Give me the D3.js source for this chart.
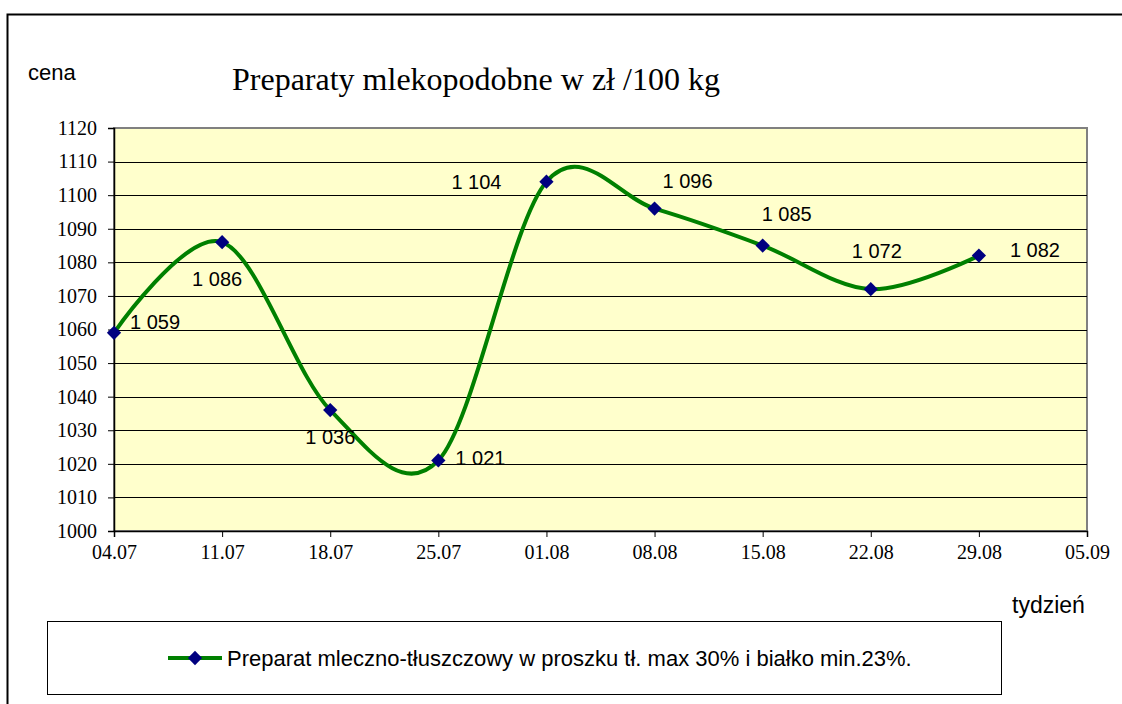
<!DOCTYPE html>
<html><head><meta charset="utf-8">
<script src="https://cdn.jsdelivr.net/npm/d3@7"></script>
<style>body{margin:0;background:#fff}</style>
</head><body>
<svg id="c" width="1122" height="704"></svg>
<script>
const weeks = ["04.07","11.07","18.07","25.07","01.08","08.08","15.08","22.08","29.08"];
const xTicks = ["04.07","11.07","18.07","25.07","01.08","08.08","15.08","22.08","29.08","05.09"];
const values = [1059,1086,1036,1021,1104,1096,1085,1072,1082];
const labels = ["1 059","1 086","1 036","1 021","1 104","1 096","1 085","1 072","1 082"];
const yTicks = [1000,1010,1020,1030,1040,1050,1060,1070,1080,1090,1100,1110,1120];
const seriesName = "Preparat mleczno-tłuszczowy w proszku tł. max 30% i białko min.23%.";

const svg = d3.select("#c");
const L=114,R=1087,T=128,B=531;
const x = d3.scalePoint().domain(xTicks).range([L,R]);
const y = d3.scaleLinear().domain([1000,1120]).range([B,T]);
const sans = "'Liberation Sans',Arial,sans-serif";
const serif = "'Liberation Serif','Times New Roman',serif";

// outer frame
svg.append("path").attr("d","M7.5,704 L7.5,14.5 L1122,14.5").attr("fill","none").attr("stroke","#000").attr("stroke-width",2);

// plot area
svg.append("rect").attr("x",L).attr("y",T).attr("width",R-L).attr("height",B-T).attr("fill","#FFFFCC").attr("stroke","#808080").attr("stroke-width",2);
// grid
svg.append("g").selectAll("line").data(yTicks.filter(v=>v>1000&&v<1120)).join("line")
  .attr("x1",L).attr("x2",R).attr("y1",d=>Math.round(y(d))+0.5).attr("y2",d=>Math.round(y(d))+0.5)
  .attr("stroke","#000").attr("stroke-width",1);

// axes
const yAx = svg.append("g").attr("transform",`translate(${L},0)`)
  .call(d3.axisLeft(y).tickValues(yTicks).tickSize(6).tickPadding(11).tickFormat(d3.format("d")));
const xAx = svg.append("g").attr("transform",`translate(0,${B})`)
  .call(d3.axisBottom(x).tickSize(6).tickPadding(8));
[yAx,xAx].forEach(g=>{
  g.attr("font-size",null).attr("font-family",null);
  g.selectAll("path").attr("stroke","#000").attr("stroke-width",1.5);
  g.selectAll("line").attr("stroke","#000");
  g.selectAll("text").style("font-family",serif).style("font-size","20px").attr("fill","#000");
});

// line
const line = d3.line().x((d,i)=>x(weeks[i])).y(d=>y(d)).curve(d3.curveCardinal.tension(0));
svg.append("path").datum(values).attr("d",line).attr("fill","none").attr("stroke","#008000").attr("stroke-width",4);

// markers
const sym = d3.symbol().type(d3.symbolDiamond2).size(130);
svg.append("g").selectAll("path").data(values).join("path")
  .attr("transform",(d,i)=>`translate(${x(weeks[i])},${y(d)})`).attr("d",sym).attr("fill","#000080");

// data labels (offset of left edge / vertical centre from point)
const off = [[16,-11],[-30,37],[-25,27],[17,-2],[-95,0],[8,-28],[-1,-32],[-19,-38],[31,-6]];
svg.append("g").selectAll("text").data(values).join("text")
  .attr("x",(d,i)=>x(weeks[i])+off[i][0]).attr("y",(d,i)=>y(d)+off[i][1]).attr("dy","0.35em")
  .style("font-family",sans).style("font-size","20px").attr("fill","#000")
  .text((d,i)=>labels[i]);

// titles
svg.append("text").attr("x",232).attr("y",90).style("font-family",serif).style("font-size","32px").text("Preparaty mlekopodobne w zł /100 kg");
svg.append("text").attr("x",28).attr("y",80).style("font-family",sans).style("font-size","22px").text("cena");
svg.append("text").attr("x",1012).attr("y",613).style("font-family",sans).style("font-size","23px").text("tydzień");

// legend
svg.append("rect").attr("x",47.5).attr("y",621.5).attr("width",954).attr("height",73).attr("fill","#fff").attr("stroke","#000").attr("stroke-width",1);
svg.append("line").attr("x1",168).attr("x2",222).attr("y1",658).attr("y2",658).attr("stroke","#008000").attr("stroke-width",4);
svg.append("path").attr("transform","translate(195,658)").attr("d",sym).attr("fill","#000080");
svg.append("text").attr("x",227).attr("y",658).attr("dy","0.35em").style("font-family",sans).style("font-size","22px").text(seriesName);
</script>
</body></html>
